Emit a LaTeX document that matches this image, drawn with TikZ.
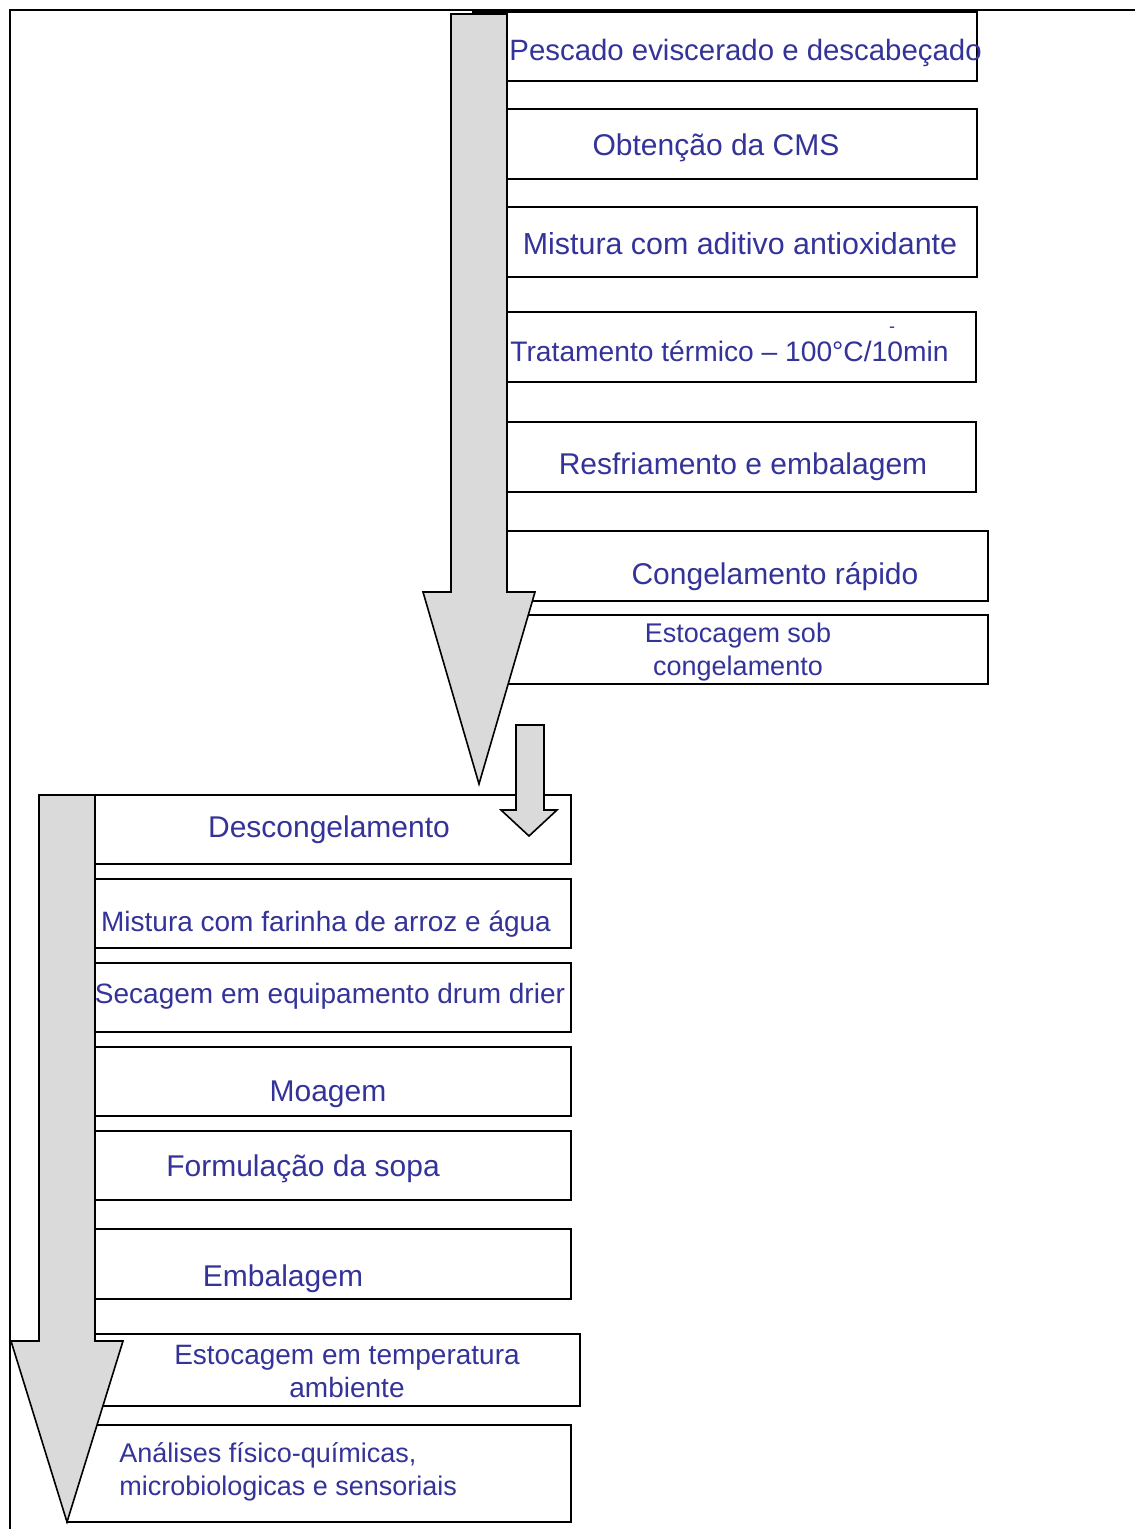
\documentclass[tikz,border=0pt]{standalone}
\usepackage{fontspec}
\setmainfont{Liberation Sans}
\usepackage{xcolor}
\definecolor{stepblue}{RGB}{51,51,153}
\definecolor{arrowgray}{RGB}{218,218,218}

\begin{document}
\begin{tikzpicture}[x=0.5pt,y=-0.5pt,
  stepbox/.style={draw=black, line width=0.8pt, fill=white},
  steptext/.style={text=stepblue, inner sep=0pt, anchor=base, font=\fontsize{15}{18}\selectfont},
  smalltext/.style={steptext, font=\fontsize{14}{16.5}\selectfont},
  flowarrow/.style={draw=black, line width=0.8pt, fill=arrowgray, line join=miter}]
\useasboundingbox (0,0) rectangle (1135,1529);

\draw[line width=1pt] (10,1529) -- (10,10) -- (1135,10);

% first stage: obtaining and freezing the CMS
\draw[stepbox] (473,12) rectangle (977,81);
\draw[stepbox] (473,109) rectangle (977,179);
\draw[stepbox] (473,207) rectangle (977,277);
\draw[stepbox] (473,312) rectangle (976,382);
\draw[stepbox] (473,422) rectangle (976,492);
\draw[stepbox] (473,531) rectangle (988,601);
\draw[stepbox] (473,615) rectangle (988,684);

\node[steptext, anchor=base west, font=\fontsize{14.7}{18}\selectfont] (pescado) at (509,61) {Pescado eviscerado e descabeçado};
\node[steptext] (cms) at (716,156) {Obtenção da CMS};
\node[steptext, font=\fontsize{15.2}{18}\selectfont] (aditivo) at (740,255) {Mistura com aditivo antioxidante};
\node[smalltext, anchor=base west, font=\fontsize{14.1}{16.5}\selectfont] (termico) at (510,362) {Tratamento térmico – 100°C/10min};
\node[smalltext, font=\fontsize{9}{10}\selectfont] (traco) at (892,333) {-};
\node[steptext] (resfria) at (743,474) {Resfriamento e embalagem};
\node[steptext] (congela) at (775,584) {Congelamento rápido};
\node[smalltext, anchor=center, align=center, font=\fontsize{13.5}{16.7}\selectfont] (estoque) at (738,652) {Estocagem sob\\congelamento};

\draw[flowarrow] (451,14) -- (507,14) -- (507,592) -- (535,592) -- (479,784)
  -- (423,592) -- (451,592) -- cycle;

% second stage: soup powder
\draw[stepbox] (67,795) rectangle (571,864);
\draw[stepbox] (67,879) rectangle (571,948);
\draw[stepbox] (67,963) rectangle (571,1032);
\draw[stepbox] (67,1047) rectangle (571,1116);
\draw[stepbox] (67,1131) rectangle (571,1200);
\draw[stepbox] (67,1229) rectangle (571,1299);
\draw[stepbox] (67,1334) rectangle (580,1406);
\draw[stepbox] (67,1425) rectangle (571,1522);

\node[steptext] (descong) at (329,837) {Descongelamento};
\node[smalltext] (farinha) at (326,931) {Mistura com farinha de arroz e água};
\node[smalltext] (secagem) at (330,1003) {Secagem em equipamento drum drier};
\node[steptext] (moagem) at (328,1101) {Moagem};
\node[steptext] (sopa) at (303,1176) {Formulação da sopa};
\node[steptext] (embala) at (283,1286) {Embalagem};
\node[smalltext, anchor=center, align=center] (ambiente) at (347,1371) {Estocagem em temperatura\\ambiente};
\node[smalltext, anchor=west, align=left, font=\fontsize{13.5}{16.7}\selectfont] (analises) at (119,1472) {Análises físico-químicas,\\microbiologicas e sensoriais};

\draw[flowarrow] (516,725) -- (544,725) -- (544,810) -- (557,810) -- (529,836)
  -- (501,810) -- (516,810) -- cycle;

\draw[flowarrow] (39,795) -- (95,795) -- (95,1341) -- (123,1341) -- (67,1522)
  -- (11,1341) -- (39,1341) -- cycle;
\end{tikzpicture}
\end{document}
